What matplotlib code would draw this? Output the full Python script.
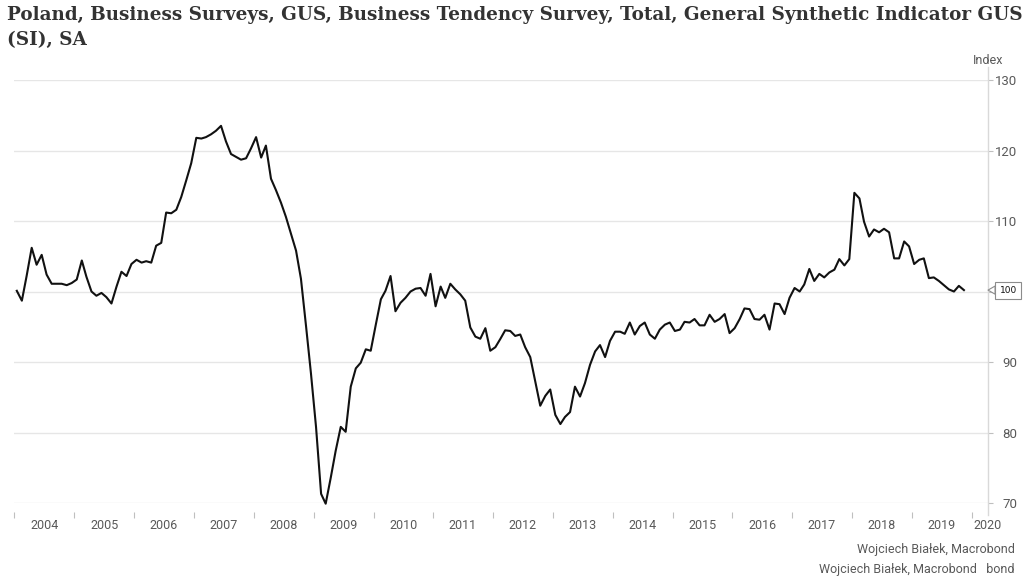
import numpy as np
import pandas as pd
import matplotlib
matplotlib.use('Agg')
import matplotlib.pyplot as plt

# General Synthetic Indicator GUS (SI), SA - monthly, Jan 2004 .. Nov 2019
values = [
    100.1, 98.7, 102.2, 106.2, 103.8, 105.2, 102.4, 101.1, 101.1, 101.1, 100.9, 101.2,   # 2004
    101.7, 104.4, 102.1, 100.0, 99.4, 99.8, 99.2, 98.3, 100.7, 102.8, 102.2, 103.9,      # 2005
    104.5, 104.1, 104.3, 104.1, 106.5, 106.9, 111.2, 111.1, 111.6, 113.4, 115.8, 118.2,  # 2006
    121.8, 121.7, 121.9, 122.3, 122.8, 123.5, 121.3, 119.5, 119.1, 118.7, 118.9, 120.3,  # 2007
    121.9, 119.0, 120.7, 116.0, 114.4, 112.6, 110.6, 108.2, 105.8, 101.8, 95.1, 88.4,    # 2008
    80.8, 71.3, 69.9, 73.6, 77.4, 80.8, 80.1, 86.5, 89.1, 89.9, 91.8, 91.6,              # 2009
    95.3, 98.9, 100.1, 102.2, 97.2, 98.4, 99.1, 100.0, 100.4, 100.5, 99.4, 102.5,        # 2010
    97.9, 100.7, 99.1, 101.1, 100.3, 99.6, 98.7, 94.9, 93.6, 93.3, 94.8, 91.6,           # 2011
    92.1, 93.3, 94.5, 94.4, 93.7, 93.9, 92.1, 90.7, 87.2, 83.8, 85.2, 86.1,              # 2012
    82.5, 81.2, 82.2, 82.9, 86.5, 85.1, 87.0, 89.6, 91.5, 92.4, 90.7, 93.0,              # 2013
    94.3, 94.3, 94.0, 95.6, 93.9, 95.1, 95.6, 93.9, 93.3, 94.6, 95.3, 95.6,              # 2014
    94.4, 94.6, 95.7, 95.6, 96.1, 95.2, 95.2, 96.7, 95.7, 96.1, 96.8, 94.1,              # 2015
    94.8, 96.1, 97.6, 97.5, 96.1, 96.0, 96.7, 94.6, 98.3, 98.2, 96.8, 99.1,              # 2016
    100.5, 100.0, 101.0, 103.2, 101.5, 102.5, 102.0, 102.7, 103.1, 104.6, 103.7, 104.6,  # 2017
    114.0, 113.2, 109.9, 107.8, 108.8, 108.4, 108.9, 108.4, 104.7, 104.7, 107.1, 106.4,  # 2018
    103.9, 104.5, 104.7, 101.9, 102.0, 101.5, 100.9, 100.3, 100.0, 100.8, 100.2,         # 2019
]
dates = pd.date_range('2004-01-01', periods=len(values), freq='MS') + pd.Timedelta(days=14)

years = list(range(2004, 2021))
y_ticks = [70, 80, 90, 100, 110, 120, 130]
y_labels = ['70', '80', '90', '', '110', '120', '130']

title = ('Poland, Business Surveys, GUS, Business Tendency Survey, Total, General Synthetic Indicator GUS\n'
         '(SI), SA')
source = 'Wojciech Białek, Macrobond'

grid_col = '#e6e6e6'
tick_col = '#bfbfbf'
text_col = '#595959'

fig = plt.figure(figsize=(10.24, 5.86), dpi=100)
ax = fig.add_axes([0.01416, 0.14164, 0.9507, 0.7218])

ax.plot(dates, values, color='#111111', lw=1.5, zorder=3, clip_on=False)

x_end = pd.Timestamp('2020-04-10')
ax.set_xlim(pd.Timestamp('2004-01-01'), x_end)
ax.set_ylim(70, 130)

# grid
ax.set_yticks(y_ticks)
ax.yaxis.grid(True, color=grid_col, lw=1)
ax.set_axisbelow(True)

for s in ['top', 'left', 'bottom', 'right']:
    ax.spines[s].set_visible(False)
ax.spines['bottom'].set_position(('outward', 6.5))

# right axis line sticks out a little above and below
ax.plot([1, 1], [-0.028, 1.031], transform=ax.transAxes, color='#d9d9d9', lw=1, clip_on=False)

# x axis: ticks at year starts, labels in the middle of each year
ax.set_xticks([pd.Timestamp(f'{y}-01-01') for y in years])
ax.set_xticklabels([])
ax.set_xticks([pd.Timestamp(f'{y}-07-01') for y in years[:-1]] + [x_end], minor=True)
ax.set_xticklabels([str(y) for y in years], minor=True)
ax.tick_params(axis='x', which='major', length=4.3, width=0.8, color=tick_col, direction='out')
ax.tick_params(axis='x', which='minor', length=0, pad=5, labelsize=9, labelcolor=text_col)

# y axis on the right
ax.yaxis.tick_right()
ax.set_yticklabels(y_labels)
ax.tick_params(axis='y', length=3.6, width=0.8, color=tick_col, pad=17.3,
               labelsize=9.5, labelcolor=text_col)
for lab in ax.get_yticklabels():
    lab.set_horizontalalignment('right')

for lab in ax.get_xticklabels(minor=True) + ax.get_yticklabels():
    lab.set_family('Roboto')

# last value callout
last = values[-1]
ax.annotate(f'{last:.0f}', xy=(1.0, last), xycoords=ax.get_yaxis_transform(),
            xytext=(14.5, 0), textcoords='offset points', ha='center', va='center',
            fontsize=6.5, family='DejaVu Sans', color='#111111', annotation_clip=False,
            bbox=dict(boxstyle='square,pad=0.45', fc='white', ec='#8c8c8c', lw=0.8),
            arrowprops=dict(arrowstyle='wedge,tail_width=0.9', fc='white', ec='#8c8c8c',
                            lw=0.8, shrinkA=0, shrinkB=0))

fig.text(0.9648, 1 - 60 / 586, 'Index', ha='center', va='center', fontsize=9,
         color=text_col, family='Roboto')

fig.text(0.007, 0.990, title, ha='left', va='top', fontsize=13.2, fontweight='bold',
         family='DejaVu Serif', color='#333333', linespacing=1.5)

fig.text(0.991, 1 - 549 / 586, source, ha='right', va='center', fontsize=9,
         color=text_col, family='Roboto')
fig.text(0.991, 1 - 570 / 586, source + '   bond', ha='right', va='center', fontsize=9,
         color=text_col, family='Roboto')

fig.savefig('out.png', dpi=100)
